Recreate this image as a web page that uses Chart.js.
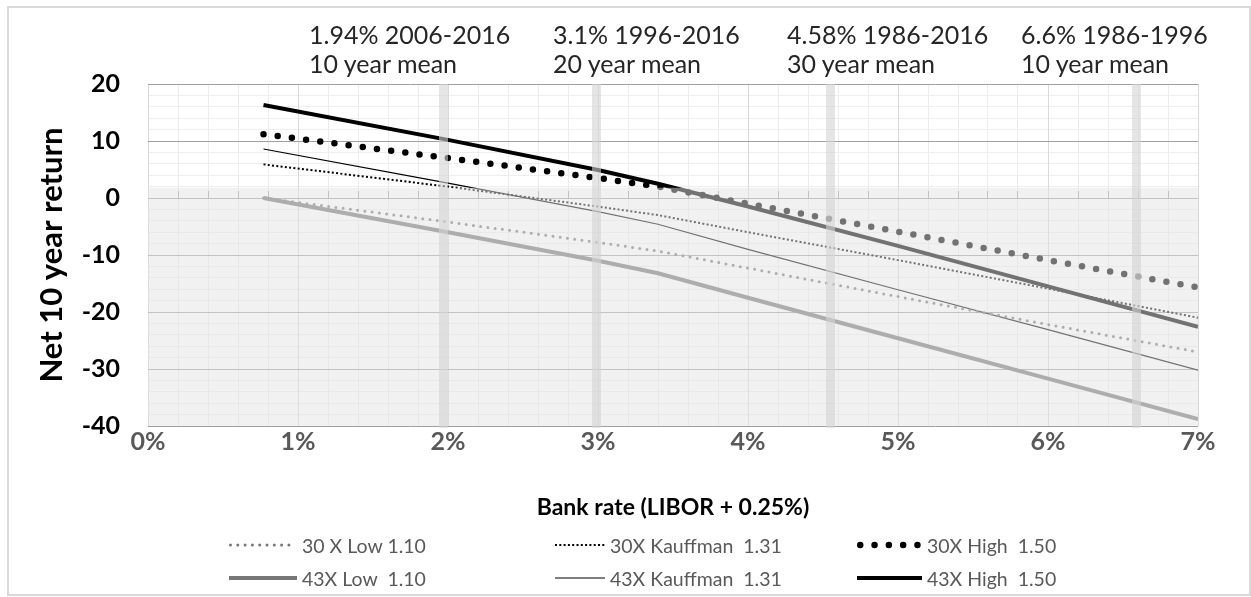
<!DOCTYPE html>
<html>
<head>
<meta charset="utf-8">
<script src="https://cdn.jsdelivr.net/npm/chart.js@4.4.1/dist/chart.umd.min.js"></script>
<style>
  body { margin: 0; background: #fff; font-family: Lato, sans-serif; }
  #wrap { position: relative; width: 1251px; height: 597px; overflow: hidden; }
  #frame { position: absolute; left: 7px; top: 6px; width: 1244px; height: 590px; border: 2px solid #d9d9d9; box-sizing: border-box; }
  canvas { position: absolute; left: 0; top: 0; }
  .note { position: absolute; top: 20px; font-size: 25px; line-height: 29px; color: #262626; white-space: pre; }
  .item { position: absolute; height: 24px; display: flex; align-items: center; font-size: 19.5px; color: #595959; white-space: pre; }
  .item svg { margin-right: 5px; }
</style>
</head>
<body>
<div id="wrap">
  <div id="frame"></div>
  <canvas id="rate-chart" width="1251" height="597"></canvas>
  <div id="notes"></div>
  <div id="legend"></div>
</div>
<script>
var rates = [0.77, 2, 3, 3.4, 4, 5, 6, 7]; // bank rate %
var low30 = [0, -4.2, -7.8, -9.3, -12.3, -17.3, -22.2, -27.0];
var kauffman30 = [5.9, 2.0, -1.5, -3.0, -6.0, -10.9, -15.9, -21.0];
var high30 = [11.2, 7.0, 3.5, 2.0, -1.0, -5.9, -10.9, -15.7];
var low43 = [0, -6.0, -11.0, -13.2, -17.5, -24.6, -31.7, -38.8];
var kauffman43 = [8.6, 2.6, -2.4, -4.6, -9.0, -16.1, -23.1, -30.2];
var high43 = [16.3, 10.2, 4.9, 2.5, -1.5, -8.4, -15.5, -22.6];

var seriesNames = ["30 X Low 1.10", "30X Kauffman  1.31", "30X High  1.50",
  "43X Low  1.10", "43X Kauffman  1.31", "43X High  1.50"];

var meanRates = [1.97, 2.99, 4.55, 6.59];
var meanNotes = [["1.94% 2006-2016", "10 year mean"], ["3.1% 1996-2016", "20 year mean"],
  ["4.58% 1986-2016", "30 year mean"], ["6.6% 1986-1996", "10 year mean"]];
var shadeTop = 1.8; // top of the grey band, in return units

// layout only
var noteLeft = [309, 553, 787, 1021];
var legendCols = [{ x: 229, w: 68 }, { x: 555, w: 50 }, { x: 857, w: 65 }];
var legendRows = [545, 578];

function pairs(values) {
  return values.map(function (v, i) {
    return { x: rates[i], y: v };
  });
}

document.addEventListener("DOMContentLoaded", function () {
  Chart.defaults.font.family = "Lato";

  var overlayPlugin = {
    id: "overlay",
    afterDatasetsDraw: function (chart) {
      var ctx = chart.ctx;
      var area = chart.chartArea;
      var x = chart.scales.x;
      var y = chart.scales.y;
      var top = y.getPixelForValue(shadeTop);
      ctx.save();
      ctx.fillStyle = "rgba(228, 228, 228, 0.5)";
      ctx.fillRect(area.left, top, area.right - area.left, area.bottom - top);
      ctx.fillStyle = "rgba(212, 212, 212, 0.6)";
      meanRates.forEach(function (r) {
        var px = x.getPixelForValue(r);
        ctx.fillRect(px - 4.5, area.top, 9, area.bottom - area.top + 2);
      });
      ctx.restore();
    },
  };

  var ctx = document.getElementById("rate-chart").getContext("2d");
  var chart = new Chart(ctx, {
    type: "line",
    data: {
      datasets: [
        { label: seriesNames[0], data: pairs(low30), borderColor: "#777777", borderWidth: 3, borderDash: [0, 7.3], borderCapStyle: "round" },
        { label: seriesNames[1], data: pairs(kauffman30), borderColor: "#000000", borderWidth: 2, borderDash: [2, 2.3] },
        { label: seriesNames[2], data: pairs(high30), borderColor: "#000000", borderWidth: 6.5, borderDash: [0, 14.3], borderCapStyle: "round" },
        { label: seriesNames[3], data: pairs(low43), borderColor: "#777777", borderWidth: 4 },
        { label: seriesNames[4], data: pairs(kauffman43), borderColor: "#000000", borderWidth: 1.2 },
        { label: seriesNames[5], data: pairs(high43), borderColor: "#000000", borderWidth: 4 },
      ],
    },
    options: {
      responsive: false,
      animation: false,
      events: [],
      elements: { point: { radius: 0 }, line: { tension: 0, fill: false } },
      layout: { padding: { left: 33, top: 84, right: 53, bottom: 76 } },
      plugins: { legend: { display: false }, tooltip: { enabled: false } },
      scales: {
        x: {
          type: "linear",
          min: 0,
          max: 7,
          ticks: {
            stepSize: 1,
            maxRotation: 0,
            padding: 1,
            color: "#595959",
            font: { size: 25, weight: "bold" },
            callback: function (value) {
              return value + "%";
            },
          },
          grid: { color: "#d9d9d9", drawTicks: false },
          border: { display: false },
          title: {
            display: true,
            text: "Bank rate (LIBOR + 0.25%)",
            color: "#000000",
            font: { size: 23, weight: "bold" },
            padding: 0,
          },
          afterFit: function (scale) {
            scale.height = 95;
          },
        },
        xm: {
          type: "linear",
          min: 0,
          max: 7,
          position: { y: 1.2 },
          ticks: { display: false, stepSize: 0.2 },
          grid: { color: "#ececec", z: -2, drawTicks: true, tickLength: 8, tickColor: "#a0a0a0" },
          border: { display: false },
          afterFit: function (scale) {
            scale.height = 0;
          },
        },
        y: {
          min: -40,
          max: 20,
          ticks: {
            stepSize: 10,
            padding: 28,
            color: "#000000",
            font: { size: 25, weight: "bold" },
          },
          grid: { color: "#a0a0a0", drawTicks: false },
          border: { display: false },
          title: {
            display: true,
            text: "Net 10 year return",
            color: "#000000",
            font: { size: 31, weight: "bold" },
            padding: 0,
          },
          afterFit: function (scale) {
            scale.width = 115;
          },
        },
        ym: {
          min: -40,
          max: 20,
          position: "left",
          ticks: { display: false, stepSize: 2 },
          grid: { color: "#eeeeee", z: -2, drawTicks: false },
          border: { display: false },
          afterFit: function (scale) {
            scale.width = 0;
          },
        },
      },
    },
    plugins: [overlayPlugin],
  });

  // notes above the bars
  var notes = document.getElementById("notes");
  meanNotes.forEach(function (lines, i) {
    var div = document.createElement("div");
    div.className = "note";
    div.style.left = noteLeft[i] + "px";
    div.textContent = lines.join("\n");
    notes.appendChild(div);
  });

  // legend from the datasets
  var legend = document.getElementById("legend");
  chart.data.datasets.forEach(function (ds, i) {
    var col = legendCols[i % 3];
    var row = legendRows[Math.floor(i / 3)];
    var item = document.createElement("div");
    item.className = "item";
    item.style.left = col.x + "px";
    item.style.top = row - 12 + "px";
    var round = ds.borderCapStyle === "round";
    var pad = round ? ds.borderWidth / 2 : 0;
    var dash = ds.borderDash ? ds.borderDash.join(" ") : "none";
    item.innerHTML =
      '<svg width="' + col.w + '" height="12"><line x1="' + pad + '" y1="6" x2="' + (col.w - pad) +
      '" y2="6" stroke="' + ds.borderColor + '" stroke-width="' + ds.borderWidth +
      '" stroke-dasharray="' + dash + '" stroke-linecap="' + (round ? "round" : "butt") + '"/></svg>';
    var span = document.createElement("span");
    span.textContent = ds.label;
    item.appendChild(span);
    legend.appendChild(item);
  });
});
</script>
</body>
</html>
